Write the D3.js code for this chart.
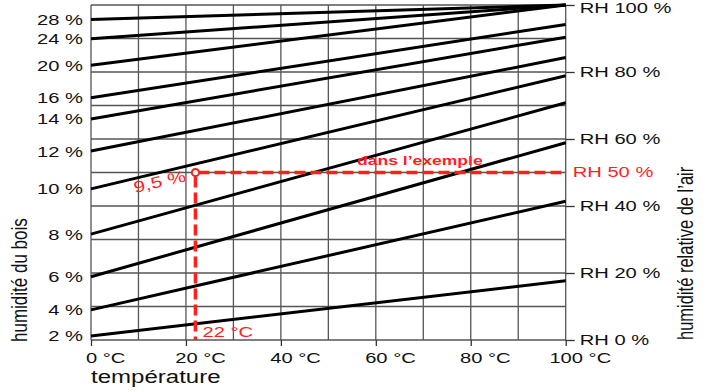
<!DOCTYPE html>
<html>
<head>
<meta charset="utf-8">
<script src="https://cdn.jsdelivr.net/npm/d3@7"></script>
<style>
  body { margin: 0; background: #fff; }
  text { font-family: "Liberation Sans", Arial, Helvetica, sans-serif; }
</style>
</head>
<body>
<svg id="chart" width="713" height="392"></svg>
<script>
// wood moisture lines: air RH at 0 °C and at 100 °C
var woodMoisture = [2, 4, 6, 8, 10, 12, 14, 16, 20, 24, 28];
var rhAt0 = [1.2, 9.0, 18.9, 31.6, 45.1, 56.4, 66.0, 72.3, 82.0, 89.9, 95.7];
var rhAt100 = [17.7, 41.4, 58.9, 70.8, 78.9, 84.3, 90.4, 94.2, 100, 100, 100];
var tempTicks = [0, 20, 40, 60, 80, 100];
var rhTicks = [0, 20, 40, 60, 80, 100];
var gridSteps = [0, 10, 20, 30, 40, 50, 60, 70, 80, 90, 100];
// worked example
var exTemp = 22, exRh = 50, exWood = "9,5 %";

var stretch = 1.3   // the glyphs in the picture are wide
  , fs = 15.5
  , red = "#ff1f1f"
  , svg = d3.select("#chart");

var x = d3.scaleLinear().domain([0, 100]).range([91, 565.7]);
var y = d3.scaleLinear().domain([0, 100]).range([340, 5]);

// grid
var grid = svg.append("g").attr("stroke", "#555").attr("stroke-width", 1.3);
grid.selectAll(".vx").data(gridSteps).enter().append("line")
  .attr("x1", d => x(d)).attr("x2", d => x(d))
  .attr("y1", y(0)).attr("y2", y(100));
grid.selectAll(".hy").data(gridSteps).enter().append("line")
  .attr("x1", x(0)).attr("x2", x(100))
  .attr("y1", d => y(d)).attr("y2", d => y(d));

function styleAxis(g){
  g.attr("font-size", fs);
  g.select(".domain").remove();
  g.selectAll(".tick line").attr("stroke", "#333").attr("stroke-width", 1.3);
  g.selectAll("text").attr("fill", "#111");
}

// left axis: wood moisture labels
var left = svg.append("g").attr("transform", "translate(" + x(0) + ",0)")
  .call(d3.axisLeft(y).tickValues(rhAt0).tickSize(0)
    .tickFormat((d, i) => woodMoisture[i] + " %"));
styleAxis(left);
left.selectAll("text").attr("x", -8 / stretch).attr("transform", "scale(" + stretch + ",1)");

// right axis: relative humidity
var right = svg.append("g").attr("transform", "translate(" + x(100) + ",0)")
  .call(d3.axisRight(y).tickValues(rhTicks).tickSize(9).tickPadding(5)
    .tickFormat(d => "RH " + d + " %"));
styleAxis(right);
right.selectAll("text").attr("x", 14 / stretch).attr("transform", "scale(" + stretch + ",1)")
  .attr("dy", d => d == 100 ? "0.5em" : "0.32em");

// bottom axis: temperature, number centred on the tick
var bottom = svg.append("g").attr("transform", "translate(0," + y(0) + ")")
  .call(d3.axisBottom(x).tickValues(tempTicks).tickSize(6).tickPadding(6)
    .tickFormat(d => d + " °C"));
styleAxis(bottom);
bottom.selectAll("text")
  .attr("text-anchor", "start")
  .attr("x", d => -String(d).length * 0.556 * fs / 2)
  .attr("transform", "scale(" + stretch + ",1)");

// wood moisture lines
svg.append("g").selectAll("line").data(woodMoisture).enter().append("line")
  .attr("x1", x(0)).attr("y1", (d, i) => y(rhAt0[i]))
  .attr("x2", x(100)).attr("y2", (d, i) => y(rhAt100[i]))
  .attr("stroke", "#000").attr("stroke-width", 3);

// example
var ex = svg.append("g");
ex.append("line")
  .attr("x1", x(exTemp) + 3).attr("x2", x(100))
  .attr("y1", y(exRh)).attr("y2", y(exRh));
ex.append("line")
  .attr("x1", x(exTemp)).attr("x2", x(exTemp))
  .attr("y1", y(exRh) + 4).attr("y2", y(0));
ex.selectAll("line").attr("stroke", red).attr("stroke-width", 3.5).attr("stroke-dasharray", "11,5");
ex.append("circle").attr("cx", x(exTemp)).attr("cy", y(exRh)).attr("r", 3.6)
  .attr("fill", "#fff").attr("stroke", red).attr("stroke-width", 2);

function label(txt, tr, size, color, weight){
  return svg.append("text").attr("transform", tr)
    .attr("font-size", size).attr("fill", color)
    .attr("font-weight", weight || "normal").text(txt);
}
label(exWood, "translate(135,193) rotate(-13) scale(" + stretch + ",1)", 16, red);
label(exTemp + " °C", "translate(202.5,336.7) scale(" + stretch + ",1)", fs, red);
label("dans l’exemple", "translate(357,165) scale(" + stretch + ",1)", 13.5, red, "bold");
label("RH " + exRh + " %", "translate(" + (x(100) + 7) + "," + y(exRh) + ") scale(" + stretch + ",1)", fs, red)
  .attr("dy", "0.32em");

// axis titles
label("température", "translate(91,383) scale(" + stretch + ",1)", 18.5, "#111");
label("humidité du bois", "translate(26.5,342) scale(" + stretch + ",1) rotate(-90)", 17, "#111");
label("humidité relative de l’air", "translate(693,340) scale(" + stretch + ",1) rotate(-90)", 16.5, "#111");
</script>
</body>
</html>
